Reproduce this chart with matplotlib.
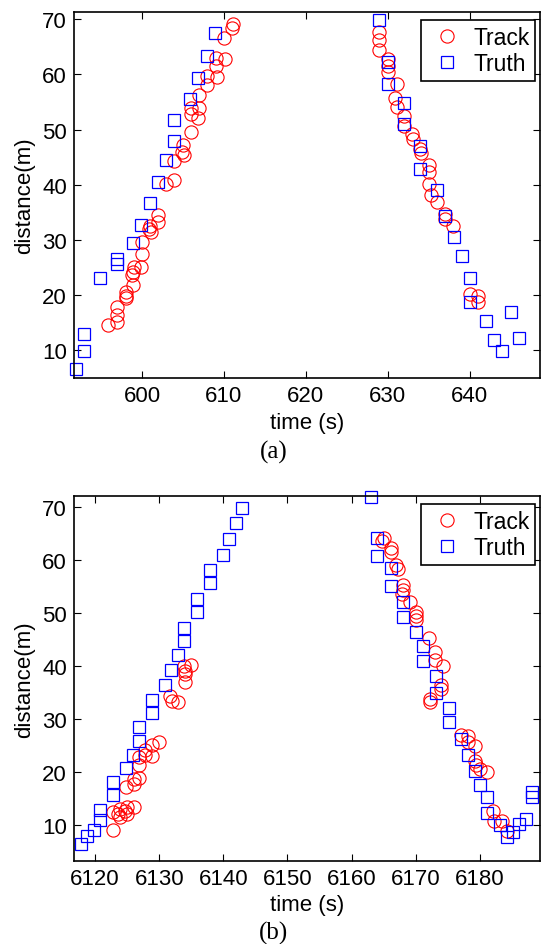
import matplotlib
matplotlib.use("Agg")
import matplotlib.pyplot as plt

# ---------------- data: panel (a) ----------------
a_track_t = [595.9, 597.0, 596.9, 597.0, 598.0, 598.0, 598.0, 598.9, 598.8, 598.9, 599.0, 599.9,
             600.0, 600.0, 601.1, 600.9, 601.0, 602.0, 601.95, 602.9, 603.9, 603.9, 605.1, 604.9,
             605.0, 606.0, 606.9, 606.0, 607.0, 606.0, 607.0, 607.9, 608.0, 609.1, 609.0, 609.0,
             610.1, 610.0, 611.0, 611.1,
             629.0, 629.0, 628.9, 630.0, 630.0, 630.0, 631.1, 630.9, 631.1, 632.0, 632.0, 633.0,
             633.1, 634.0, 634.1, 635.0, 635.0, 635.0, 635.3, 636.0, 637.0, 637.0, 638.0, 640.0,
             641.0, 641.0]
a_track_d = [14.5, 15.0, 16.3, 17.7, 19.4, 19.8, 20.4, 21.8, 23.5, 24.2, 25.0, 25.0,
             27.4, 29.5, 31.3, 31.95, 32.55, 33.2, 34.5, 40.1, 40.85, 44.3, 45.3, 45.9,
             47.1, 49.6, 52.1, 52.9, 53.9, 54.0, 56.2, 58.1, 59.7, 59.5, 61.5, 63.0,
             62.9, 66.6, 68.5, 69.1,
             67.7, 66.2, 64.5, 62.9, 61.5, 60.5, 58.3, 55.8, 54.1, 52.5, 50.7, 49.2,
             48.3, 46.5, 45.8, 43.5, 42.3, 40.1, 38.1, 36.8, 34.7, 33.8, 32.4, 20.1,
             19.8, 18.6]
a_truth_t = [591.98, 592.96, 592.96, 594.9, 596.95, 596.95, 598.9, 599.9, 601.0, 601.95, 602.97,
             603.94, 603.94, 605.9, 606.9, 607.94, 608.95,
             629.0, 630.0, 630.0, 632.0, 632.0, 634.0, 634.0, 636.0, 637.0, 638.05, 639.07,
             640.0, 640.0, 642.0, 643.0, 644.0, 645.05, 646.0]
a_truth_d = [6.4, 9.7, 12.8, 23.1, 25.5, 26.5, 29.4, 32.7, 36.6, 40.5, 44.5,
             47.9, 51.8, 55.6, 59.45, 63.3, 67.5,
             69.9, 62.25, 58.2, 54.85, 51.0, 47.0, 42.75, 39.1, 34.3, 30.55, 27.1,
             23.0, 18.7, 15.2, 11.8, 9.7, 16.8, 12.1]

# ---------------- data: panel (b) ----------------
b_track_t = [6122.85, 6123.9, 6125.0, 6123.6, 6122.85, 6124.7, 6123.9, 6124.9, 6126.0, 6124.8,
             6126.0, 6126.0, 6126.9, 6126.9, 6126.9, 6127.8, 6128.8, 6127.8, 6128.8, 6129.9,
             6133.0, 6132.0, 6131.7, 6134.0, 6134.0, 6134.0, 6133.8, 6135.0,
             6164.7, 6165.0, 6166.1, 6166.2, 6167.0, 6167.3, 6168.05, 6168.1, 6167.9, 6169.1,
             6170.1, 6170.1, 6170.1, 6172.1, 6173.0, 6173.0, 6174.2, 6174.0, 6174.0, 6172.2,
             6172.2, 6177.1, 6178.2, 6178.2, 6179.2, 6179.2, 6179.4, 6180.1, 6181.1, 6182.1,
             6182.3, 6183.4, 6184.2]
b_track_d = [9.05, 11.4, 12.0, 12.0, 12.45, 12.6, 13.0, 13.3, 13.3, 17.05,
             17.7, 18.6, 18.9, 21.3, 22.7, 23.15, 23.0, 24.15, 25.0, 25.7,
             33.1, 33.4, 34.3, 36.9, 38.4, 39.05, 40.0, 40.1,
             63.6, 64.2, 62.3, 61.5, 59.0, 58.25, 55.2, 54.3, 53.5, 52.1,
             50.2, 49.4, 48.7, 45.2, 42.6, 41.1, 40.0, 36.4, 35.6, 33.7,
             33.1, 26.9, 26.7, 25.55, 24.8, 22.1, 21.3, 20.5, 19.9, 12.6,
             10.75, 10.75, 8.9]
b_truth_t = [6117.8, 6118.8, 6119.8, 6120.8, 6120.8, 6122.85, 6122.85, 6124.8, 6125.9, 6126.9,
             6126.9, 6128.8, 6128.8, 6130.9, 6131.9, 6132.9, 6133.9, 6133.9, 6135.95, 6135.95,
             6137.9, 6137.9, 6139.9, 6140.9, 6141.9, 6142.96,
             6163.0, 6164.0, 6164.0, 6166.1, 6166.1, 6168.05, 6168.05, 6170.0, 6171.1, 6171.1,
             6173.1, 6173.1, 6175.2, 6175.2, 6177.1, 6178.2, 6179.2, 6180.1, 6181.2, 6181.2,
             6183.1, 6184.25, 6185.2, 6186.1, 6187.2, 6188.2, 6188.2]
b_truth_d = [6.35, 7.9, 9.05, 10.9, 12.8, 15.6, 18.1, 20.7, 23.2, 25.85,
             28.4, 31.0, 33.6, 36.35, 39.2, 42.0, 44.7, 47.05, 50.1, 52.7,
             55.7, 58.1, 60.9, 64.0, 66.9, 69.75,
             71.8, 64.1, 60.75, 58.4, 55.1, 52.1, 49.25, 46.4, 43.8, 40.9,
             38.1, 34.85, 32.0, 29.3, 26.2, 23.15, 20.1, 17.4, 15.3, 12.3,
             9.95, 7.6, 8.55, 10.1, 11.1, 15.2, 16.1]

a_xticks = [600, 610, 620, 630, 640]
b_xticks = [6120, 6130, 6140, 6150, 6160, 6170, 6180]
yticks = [10, 20, 30, 40, 50, 60, 70]

W, H = 541, 945
fig = plt.figure(figsize=(W / 100, H / 100), dpi=100)
plt.rcParams['font.family'] = ['Liberation Sans', 'DejaVu Sans']

FS = 16


def panel(rect, tt, td, rt, rd, xticks, xlim, ylim, caption, cap_y):
    l, t, r, b = rect
    ax = fig.add_axes([l / W, 1 - b / H, (r - l) / W, (b - t) / H])
    ax.plot(tt, td, 'o', ls='none', mfc='none', mec=(1, 0, 0), ms=9.5, mew=0.8,
            label='Track', clip_on=False)
    ax.plot(rt, rd, 's', ls='none', mfc='none', mec=(0, 0, 1), ms=8, mew=0.9,
            label='Truth', clip_on=False)
    ax.set_xlim(*xlim)
    ax.set_ylim(*ylim)
    ax.set_xticks(xticks)
    ax.set_yticks(yticks)
    ax.tick_params(direction='in', top=True, right=True, length=5, width=0.8,
                   labelsize=FS, pad=5)
    for s in ax.spines.values():
        s.set_linewidth(1.2)
    ax.set_xlabel('time (s)', fontsize=FS, va='center')
    ax.xaxis.set_label_coords(0.5, -44 / (b - t))
    ax.set_ylabel('distance(m)', fontsize=FS, va='center')
    ax.yaxis.set_label_coords(-(l - 25) / (r - l), 0.5)
    leg = ax.legend(loc='upper right', bbox_to_anchor=((535 - l) / (r - l), 1 - 7.5 / (b - t)),
                    borderaxespad=0, fontsize=16.5, numpoints=1, handlelength=1.7,
                    handletextpad=0.3, labelspacing=0.15, borderpad=0.25, fancybox=False,
                    framealpha=1)
    leg.get_frame().set_edgecolor('black')
    leg.get_frame().set_linewidth(1.2)
    fig.text(274 / W, 1 - cap_y / H, caption, ha='center', va='center',
             fontsize=18, family=['Liberation Serif', 'DejaVu Serif'])
    return ax


panel((74, 13.3, 540, 379), a_track_t, a_track_d, a_truth_t, a_truth_d,
      a_xticks, (591.7, 648.6), (4.85, 71.3), '(a)', 452)
panel((74, 497.3, 540, 861.7), b_track_t, b_track_d, b_truth_t, b_truth_d,
      b_xticks, (6116.7, 6189.4), (3.2, 72.0), '(b)', 933)

fig.savefig('out.png', dpi=100)
